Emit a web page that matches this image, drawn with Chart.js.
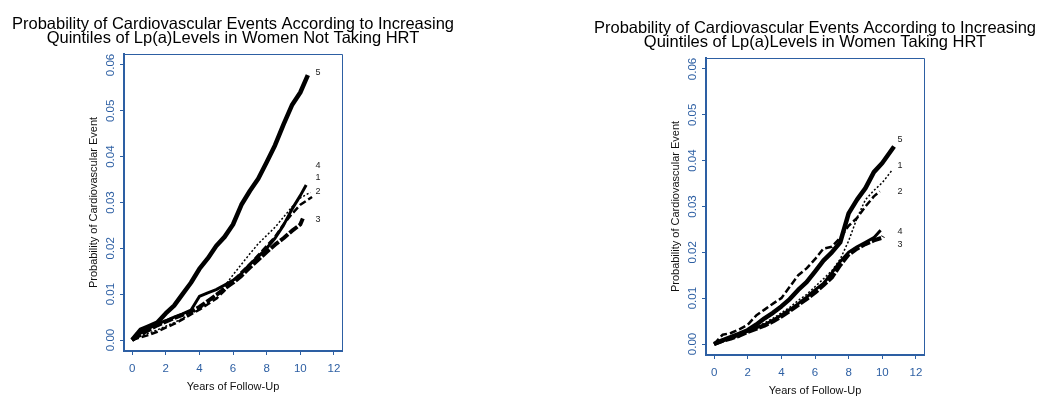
<!DOCTYPE html>
<html>
<head>
<meta charset="utf-8">
<title>Lp(a) quintiles and cardiovascular events</title>
<script src="https://cdn.jsdelivr.net/npm/chart.js@4.4.1/dist/chart.umd.min.js"></script>
<style>
    html, body {
        margin: 0;
        padding: 0;
        background: #fff;
        width: 1050px;
        height: 408px;
        overflow: hidden;
        position: relative;
    }
    canvas {
        position: absolute;
    }
</style>
</head>
<body>
<canvas id="noHrtChart" width="466" height="408" style="left:0;top:0"></canvas>
<canvas id="hrtChart" width="466" height="408" style="left:582px;top:4px"></canvas>
<script>
/**
 * Kaplan-Meier style curves, one per Lp(a) quintile, two panels
 */

// Time grid (years) shared by all curves
const YEARS = [0, 0.5, 1, 1.5, 2, 2.5, 3, 3.5, 4, 4.5, 5, 5.5, 6, 6.5, 7, 7.5, 8, 8.5, 9, 9.5, 10];

// Axis ticks
const X_TICKS = [0, 2, 4, 6, 8, 10, 12];
const Y_TICKS = [0, 0.01, 0.02, 0.03, 0.04, 0.05, 0.06];

// Women not taking HRT - cumulative probability at YEARS, plus last point [x, y]
const NO_HRT_Q1 = [0, .0008, .0015, .0022, .0030, .0038, .0047, .0057, .0068, .0082, .0098, .0118, .0142, .0165, .0188, .0210, .0228, .0246, .0268, .0290, .0310];
const NO_HRT_Q1_END = [10.6, .0322];
const NO_HRT_Q2 = [0, .0006, .0011, .0018, .0027, .0035, .0045, .0056, .0066, .0078, .0090, .0108, .0128, .0148, .0165, .0185, .0205, .0225, .0252, .0275, .0295];
const NO_HRT_Q2_END = [10.7, .0312];
const NO_HRT_Q3 = [0, .0012, .0022, .0032, .0040, .0048, .0055, .0062, .0072, .0085, .0098, .0112, .0125, .0140, .0158, .0175, .0192, .0208, .0222, .0238, .0252];
const NO_HRT_Q3_END = [10.15, .0265];
const NO_HRT_Q4 = [0, .0015, .0025, .0035, .0042, .0050, .0057, .0065, .0095, .0103, .0110, .0120, .0130, .0145, .0165, .0182, .0200, .0222, .0250, .0285, .0315];
const NO_HRT_Q4_END = [10.35, .0338];
const NO_HRT_Q5 = [0, .0022, .0030, .0038, .0058, .0075, .0100, .0125, .0155, .0178, .0205, .0225, .0252, .0295, .0325, .0352, .0388, .0425, .0470, .0512, .0540];
const NO_HRT_Q5_END = [10.45, .0578];

// Women taking HRT
const HRT_Q1 = [0, .0006, .0012, .0020, .0028, .0036, .0046, .0056, .0068, .0080, .0095, .0108, .0125, .0142, .0160, .0185, .0225, .0275, .0315, .0335, .0352];
const HRT_Q1_END = [10.6, .0380];
const HRT_Q2 = [0, .0020, .0024, .0032, .0042, .0062, .0075, .0088, .0100, .0125, .0150, .0165, .0185, .0208, .0212, .0232, .0258, .0275, .0300, .0322];
const HRT_Q2_END = [9.85, .0333];
const HRT_Q3 = [0, .0007, .0012, .0018, .0026, .0033, .0040, .0049, .0060, .0072, .0085, .0098, .0112, .0128, .0145, .0172, .0195, .0208, .0218, .0226, .0232];
const HRT_Q3_END = [10.05, .0235];
const HRT_Q4 = [0, .0008, .0013, .0020, .0028, .0035, .0042, .0052, .0063, .0075, .0088, .0102, .0118, .0132, .0155, .0180, .0200, .0212, .0222, .0232];
const HRT_Q4_END = [9.9, .0248];
const HRT_Q5 = [0, .0008, .0015, .0022, .0030, .0042, .0056, .0068, .0082, .0098, .0118, .0135, .0158, .0182, .0200, .0222, .0285, .0315, .0340, .0375, .0395];
const HRT_Q5_END = [10.7, .0431];

// Curve end labels (quintile numbers)
const QUINTILES = ['1', '2', '3', '4', '5'];
const LABEL_X = 10.9;
const NO_HRT_LABEL_Y = [.0355, .0323, .0262, .0380, .0583];
const HRT_LABEL_Y = [.0390, .0332, .0216, .0245, .0447];

const NO_HRT_TITLE = ['Probability of Cardiovascular Events According to Increasing', 'Quintiles of Lp(a)Levels in Women Not Taking HRT'];
const HRT_TITLE = ['Probability of Cardiovascular Events According to Increasing', 'Quintiles of Lp(a)Levels in Women Taking HRT'];

const AXIS_BLUE = '#2d5fa3';
const FONT = '"Liberation Sans", Arial, Helvetica, sans-serif';

// line style per quintile 1..5
const LINE_STYLES = [
    { width: 1.5, dash: [2, 2] },
    { width: 2.5, dash: [7, 3] },
    { width: 4, dash: [10, 2] },
    { width: 3, dash: [] },
    { width: 4.5, dash: [] }
];

Chart.defaults.font.family = FONT;

/**
 * Turn a value array on the YEARS grid plus an end point into {x, y} points
 */
function toPoints(values, end) {
    const pts = values.map((v, i) => ({ x: YEARS[i], y: v }));
    pts.push({ x: end[0], y: end[1] });
    return pts;
}

// Title lines centred over the plot box
const panelTitle = {
    id: 'panelTitle',
    afterDraw(chart, args, opts) {
        const { ctx, chartArea } = chart;
        const cx = (chartArea.left + chartArea.right) / 2;
        ctx.save();
        ctx.font = `${opts.size}px ${FONT}`;
        ctx.fillStyle = '#000';
        ctx.textAlign = 'center';
        ctx.textBaseline = 'alphabetic';
        opts.lines.forEach((line, i) => ctx.fillText(line, cx, opts.top + i * opts.spacing));
        ctx.restore();
    }
};

// Thin top and right sides of the box
const boxFrame = {
    id: 'boxFrame',
    afterDraw(chart) {
        const { ctx, chartArea } = chart;
        ctx.save();
        ctx.strokeStyle = AXIS_BLUE;
        ctx.lineWidth = 1;
        ctx.beginPath();
        ctx.moveTo(chartArea.left, chartArea.top + 0.5);
        ctx.lineTo(chartArea.right + 0.5, chartArea.top + 0.5);
        ctx.lineTo(chartArea.right + 0.5, chartArea.bottom);
        ctx.stroke();
        ctx.restore();
    }
};

// Quintile numbers at the end of the curves
const curveLabels = {
    id: 'curveLabels',
    afterDraw(chart, args, opts) {
        const { ctx, scales } = chart;
        ctx.save();
        ctx.font = `9px ${FONT}`;
        ctx.fillStyle = '#222';
        ctx.textAlign = 'left';
        ctx.textBaseline = 'middle';
        QUINTILES.forEach((q, i) => {
            ctx.fillText(q, scales.x.getPixelForValue(LABEL_X), scales.y.getPixelForValue(opts.y[i]));
        });
        ctx.restore();
    }
};

/**
 * Build one panel
 * @param {string} id - canvas id
 * @param {string[]} title - two title lines
 * @param {Array} curves - [{values, end}] for quintiles 1..5
 * @param {number[]} labelY - y positions of the quintile labels
 */
function initPanel(id, title, curves, labelY) {
    const ctx = document.getElementById(id);

    const datasets = curves.map((c, i) => ({
        label: 'Q' + QUINTILES[i],
        data: toPoints(c.values, c.end),
        borderColor: '#000',
        borderWidth: LINE_STYLES[i].width,
        borderDash: LINE_STYLES[i].dash,
        borderJoinStyle: 'round',
        pointRadius: 0,
        fill: false,
        tension: 0
    }));

    return new Chart(ctx.getContext('2d'), {
        type: 'line',
        data: { datasets: datasets },
        options: {
            responsive: false,
            animation: false,
            devicePixelRatio: 1,
            layout: {
                padding: { left: 0, right: 124, top: 54, bottom: 0 }
            },
            plugins: {
                legend: { display: false },
                tooltip: { enabled: false },
                title: { display: false },
                panelTitle: { lines: title, size: 16.5, top: 28.5, spacing: 14.5 },
                curveLabels: { y: labelY }
            },
            scales: {
                x: {
                    type: 'linear',
                    min: -0.48,
                    max: 12.48,
                    afterBuildTicks: s => { s.ticks = X_TICKS.map(v => ({ value: v })); },
                    afterFit: s => { s.height = 57; },
                    ticks: {
                        color: AXIS_BLUE,
                        padding: 7,
                        font: { size: 11.5 },
                        callback: v => String(v)
                    },
                    grid: {
                        drawOnChartArea: false,
                        tickLength: 4,
                        color: AXIS_BLUE
                    },
                    border: { color: AXIS_BLUE, width: 2 },
                    title: {
                        display: true,
                        text: 'Years of Follow-Up',
                        color: '#111',
                        font: { size: 11 },
                        padding: { top: 0, bottom: 14.5 }
                    }
                },
                y: {
                    type: 'linear',
                    min: -0.0024,
                    max: 0.0624,
                    afterBuildTicks: s => { s.ticks = Y_TICKS.map(v => ({ value: v })); },
                    afterFit: s => { s.width = 124; },
                    ticks: {
                        color: AXIS_BLUE,
                        padding: -2.5,
                        minRotation: 90,
                        maxRotation: 90,
                        crossAlign: 'center',
                        font: { size: 11.5 },
                        callback: v => v.toFixed(2)
                    },
                    grid: {
                        drawOnChartArea: false,
                        tickLength: 4,
                        color: AXIS_BLUE
                    },
                    border: { color: AXIS_BLUE, width: 2 },
                    title: {
                        display: true,
                        text: 'Probability of Cardiovascular Event',
                        color: '#111',
                        font: { size: 11 },
                        padding: { top: 87, bottom: 0 }
                    }
                }
            }
        },
        plugins: [panelTitle, boxFrame, curveLabels]
    });
}

initPanel('noHrtChart', NO_HRT_TITLE, [
    { values: NO_HRT_Q1, end: NO_HRT_Q1_END },
    { values: NO_HRT_Q2, end: NO_HRT_Q2_END },
    { values: NO_HRT_Q3, end: NO_HRT_Q3_END },
    { values: NO_HRT_Q4, end: NO_HRT_Q4_END },
    { values: NO_HRT_Q5, end: NO_HRT_Q5_END }
], NO_HRT_LABEL_Y);

initPanel('hrtChart', HRT_TITLE, [
    { values: HRT_Q1, end: HRT_Q1_END },
    { values: HRT_Q2, end: HRT_Q2_END },
    { values: HRT_Q3, end: HRT_Q3_END },
    { values: HRT_Q4, end: HRT_Q4_END },
    { values: HRT_Q5, end: HRT_Q5_END }
], HRT_LABEL_Y);
</script>
</body>
</html>
